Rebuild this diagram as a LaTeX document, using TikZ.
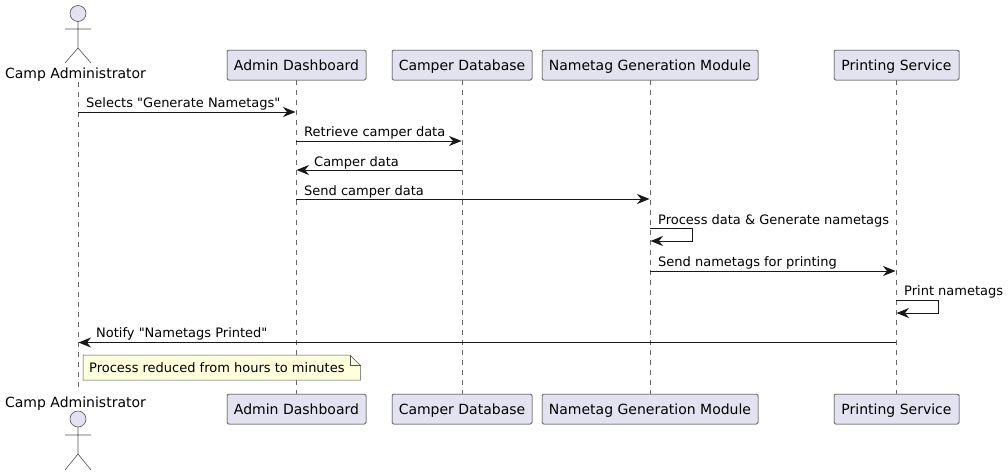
\documentclass[tikz,border=0pt]{standalone}
\usepackage{fontspec}
\setmainfont{DejaVu Sans}
\newfontfamily\plainsans{DejaVu Sans}
\usepackage{tikz}
\usetikzlibrary{arrows.meta, positioning}
\definecolor{partfill}{HTML}{E2E2F0}
\definecolor{notefill}{HTML}{FEFFDD}
\definecolor{inkline}{HTML}{181818}
\tikzstyle{part} = [draw=inkline, line width=0.5pt, fill=partfill, rounded corners=1.5pt, minimum height=30pt, inner xsep=0pt, text height=13pt, text depth=3pt, font=\fontsize{14}{16}\selectfont, text=black]
\tikzstyle{actorlabel} = [inner sep=0pt, anchor=base, font=\fontsize{14}{16}\selectfont, text=black]
\tikzstyle{stick} = [draw=inkline!75, line width=0.6pt]
\tikzstyle{lifeline} = [draw=inkline!65, line width=0.5pt, dash pattern=on 5pt off 5pt]
\tikzstyle{msg} = [draw=inkline, line width=1pt, -{Stealth[length=12.5pt, width=10pt, inset=4pt]}]
\tikzstyle{msgtext} = [inner sep=0pt, anchor=base west, font=\plainsans\fontsize{13}{15}\selectfont, text=black]
\begin{document}
\begin{tikzpicture}[x=1pt, y=-1pt]
	\useasboundingbox (0,0) rectangle (1008,475);
	% lifeline ends
	\coordinate (camptop) at (78,82);
	\coordinate (campbot) at (78,392);
	\node[part, minimum width=139pt] (admintop) at (296.5,65) {Admin Dashboard};
	\node[part, minimum width=139pt] (adminbot) at (296.5,409) {Admin Dashboard};
	\node[part, minimum width=140pt] (dbtop) at (462,65) {Camper Database};
	\node[part, minimum width=140pt] (dbbot) at (462,409) {Camper Database};
	\node[part, minimum width=216pt] (gentop) at (650,65) {Nametag Generation Module};
	\node[part, minimum width=216pt] (genbot) at (650,409) {Nametag Generation Module};
	\node[part, minimum width=125pt] (printtop) at (896.5,65) {Printing Service};
	\node[part, minimum width=125pt] (printbot) at (896.5,409) {Printing Service};
	% lifelines go under the messages
	\draw[lifeline] (camptop) -- (campbot);
	\draw[lifeline] (admintop) -- (adminbot);
	\draw[lifeline] (dbtop) -- (dbbot);
	\draw[lifeline] (gentop) -- (genbot);
	\draw[lifeline] (printtop) -- (printbot);
	% actor on top
	\node[actorlabel] (camplabeltop) at (75.5,78) {Camp Administrator};
	\draw[stick, fill=partfill] (78,13.5) circle (8);
	\draw[stick] (78,21.5) -- (78,48) (65,29) -- (91,29) (65,63) -- (78,48) -- (91,63);
	% actor below
	\node[actorlabel] (camplabelbot) at (75.5,407) {Camp Administrator};
	\draw[stick, fill=partfill] (78,419) circle (8);
	\draw[stick] (78,427) -- (78,454) (65,435) -- (91,435) (65,470) -- (78,454) -- (91,470);
	% message ends
	\coordinate (m1a) at (78,112);
	\coordinate (m1b) at (295.5,112);
	\coordinate (m2a) at (296,141);
	\coordinate (m2b) at (461.5,141);
	\coordinate (m3a) at (462,170);
	\coordinate (m3b) at (296.5,170);
	\coordinate (m4a) at (296,199);
	\coordinate (m4b) at (649.5,199);
	\coordinate (m5a) at (650,228);
	\coordinate (m5b) at (692.5,228);
	\coordinate (m5c) at (692.5,241);
	\coordinate (m5d) at (650.5,241);
	\coordinate (m6a) at (650,271);
	\coordinate (m6b) at (895.5,271);
	\coordinate (m7a) at (896,300);
	\coordinate (m7b) at (938.5,300);
	\coordinate (m7c) at (938.5,313);
	\coordinate (m7d) at (896.5,313);
	\coordinate (m8a) at (896,342.5);
	\coordinate (m8b) at (78.5,342.5);
	\draw[msg] (m1a) -- (m1b);
	\draw[msg] (m2a) -- (m2b);
	\draw[msg] (m3a) -- (m3b);
	\draw[msg] (m4a) -- (m4b);
	\draw[msg] (m5a) -- (m5b) -- (m5c) -- (m5d);
	\draw[msg] (m6a) -- (m6b);
	\draw[msg] (m7a) -- (m7b) -- (m7c) -- (m7d);
	\draw[msg] (m8a) -- (m8b);
	% message labels
	\node[msgtext] (t1) at (86,107) {Selects "Generate Nametags"};
	\node[msgtext] (t2) at (304,136) {Retrieve camper data};
	\node[msgtext] (t3) at (314,166) {Camper data};
	\node[msgtext] (t4) at (304,195) {Send camper data};
	\node[msgtext] (t5) at (658,224) {Process data \& Generate nametags};
	\node[msgtext] (t6) at (658,266) {Send nametags for printing};
	\node[msgtext] (t7) at (904,295) {Print nametags};
	\node[msgtext] (t8) at (96,337) {Notify "Nametags Printed"};
	% note
	\draw[draw=inkline!75, line width=0.5pt, fill=notefill] (83,355) -- (350,355) -- (360.5,365.5) -- (360.5,380) -- (83,380) -- cycle;
	\draw[draw=inkline!75, line width=0.5pt] (350,355) -- (350,365.5) -- (360.5,365.5);
	\node[msgtext] (notetext) at (89,372) {Process reduced from hours to minutes};
\end{tikzpicture}
\end{document}
